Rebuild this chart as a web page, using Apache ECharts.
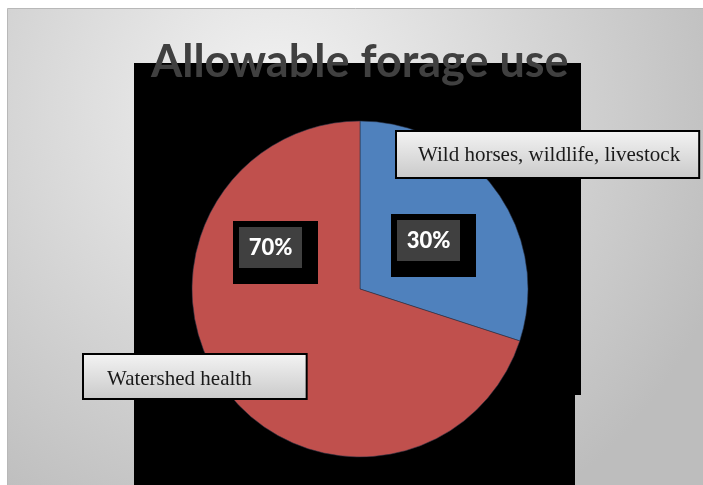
<!DOCTYPE html>
<html>
<head>
<meta charset="utf-8">
<script src="https://cdn.jsdelivr.net/npm/echarts@6/dist/echarts.min.js"></script>
<style>
  html, body { margin: 0; padding: 0; background: #ffffff; }
  #chart { width: 703px; height: 485px; }
</style>
</head>
<body>
<div id="chart"></div>
<script>
// Forage allocation shares
const categories = ['Wild horses, wildlife, livestock', 'Watershed health'];
const shares = [30, 70];
const sliceColors = ['#4f81bd', '#c0504d'];
const titleText = 'Allowable forage use';

// Callout placement (top-left corner of each box), indexed like categories
const nameBoxPos = [[397, 132], [84, 355]];
const nameBoxPad = [[13, 18, 11, 21], [14, 54, 8, 23]];
const pctBoxPos = [[391, 214], [233, 221]];

const chart = echarts.init(document.getElementById('chart'), null, { renderer: 'canvas' });

const pieData = categories.map((name, i) => ({
  name: name,
  value: shares[i],
  itemStyle: { color: sliceColors[i] }
}));

const calloutBg = new echarts.graphic.LinearGradient(0, 0, 0, 1, [
  { offset: 0, color: '#f4f4f4' },
  { offset: 1, color: '#c9c9c9' }
]);

chart.setOption({
  animation: false,
  backgroundColor: '#ffffff',
  title: {
    text: titleText,
    left: 146,
    top: 35,
    z: 20,
    textStyle: {
      fontFamily: 'Lato',
      fontWeight: 'bold',
      fontSize: 45,
      color: '#404040'
    }
  },
  graphic: [
    {
      type: 'rect',
      z: -10,
      shape: { x: 7.5, y: 8.5, width: 700, height: 480 },
      style: {
        fill: new echarts.graphic.RadialGradient(0.38, 0.2, 1.0, [
          { offset: 0, color: '#f3f3f3' },
          { offset: 1, color: '#bdbdbd' }
        ]),
        stroke: '#b8b8b8',
        lineWidth: 1
      }
    },
    {
      type: 'rect',
      z: -5,
      shape: { x: 134, y: 63, width: 447, height: 332 },
      style: { fill: '#000000' }
    },
    {
      type: 'rect',
      z: -5,
      shape: { x: 134, y: 390, width: 441, height: 100 },
      style: { fill: '#000000' }
    }
  ],
  series: [
    {
      type: 'pie',
      z: 2,
      center: [360, 289],
      radius: [0, 168],
      startAngle: 90,
      clockwise: true,
      silent: true,
      data: pieData,
      itemStyle: { borderColor: 'rgba(40,50,70,0.55)', borderWidth: 1 },
      label: {
        show: true,
        position: 'inside',
        formatter: '{p|{d}%}',
        backgroundColor: '#000000',
        padding: [6, 16, 16, 6],
        rich: {
          p: {
            width: 63,
            height: 41,
            lineHeight: 41,
            align: 'center',
            backgroundColor: '#404040',
            color: '#ffffff',
            fontFamily: 'Lato',
            fontWeight: 900,
            fontSize: 22
          }
        }
      },
      labelLine: { show: false },
      labelLayout: function (p) {
        const pos = pctBoxPos[p.dataIndex];
        return { x: pos[0], y: pos[1], align: 'left', verticalAlign: 'top' };
      }
    },
    {
      type: 'pie',
      z: 3,
      center: [360, 289],
      radius: [0, 168],
      startAngle: 90,
      clockwise: true,
      silent: true,
      data: categories.map((name, i) => ({
        name: name,
        value: shares[i],
        label: { padding: nameBoxPad[i] }
      })),
      itemStyle: { color: 'rgba(0,0,0,0)', borderWidth: 0 },
      label: {
        show: true,
        position: 'inside',
        formatter: '{b}',
        fontFamily: 'Liberation Serif',
        fontSize: 21,
        color: '#1a1a1a',
        backgroundColor: calloutBg,
        borderColor: '#000000',
        borderWidth: 2
      },
      emphasis: { disabled: true },
      labelLine: { show: false },
      labelLayout: function (p) {
        const pos = nameBoxPos[p.dataIndex];
        return { x: pos[0], y: pos[1], align: 'left', verticalAlign: 'top' };
      }
    }
  ]
});
</script>
</body>
</html>
